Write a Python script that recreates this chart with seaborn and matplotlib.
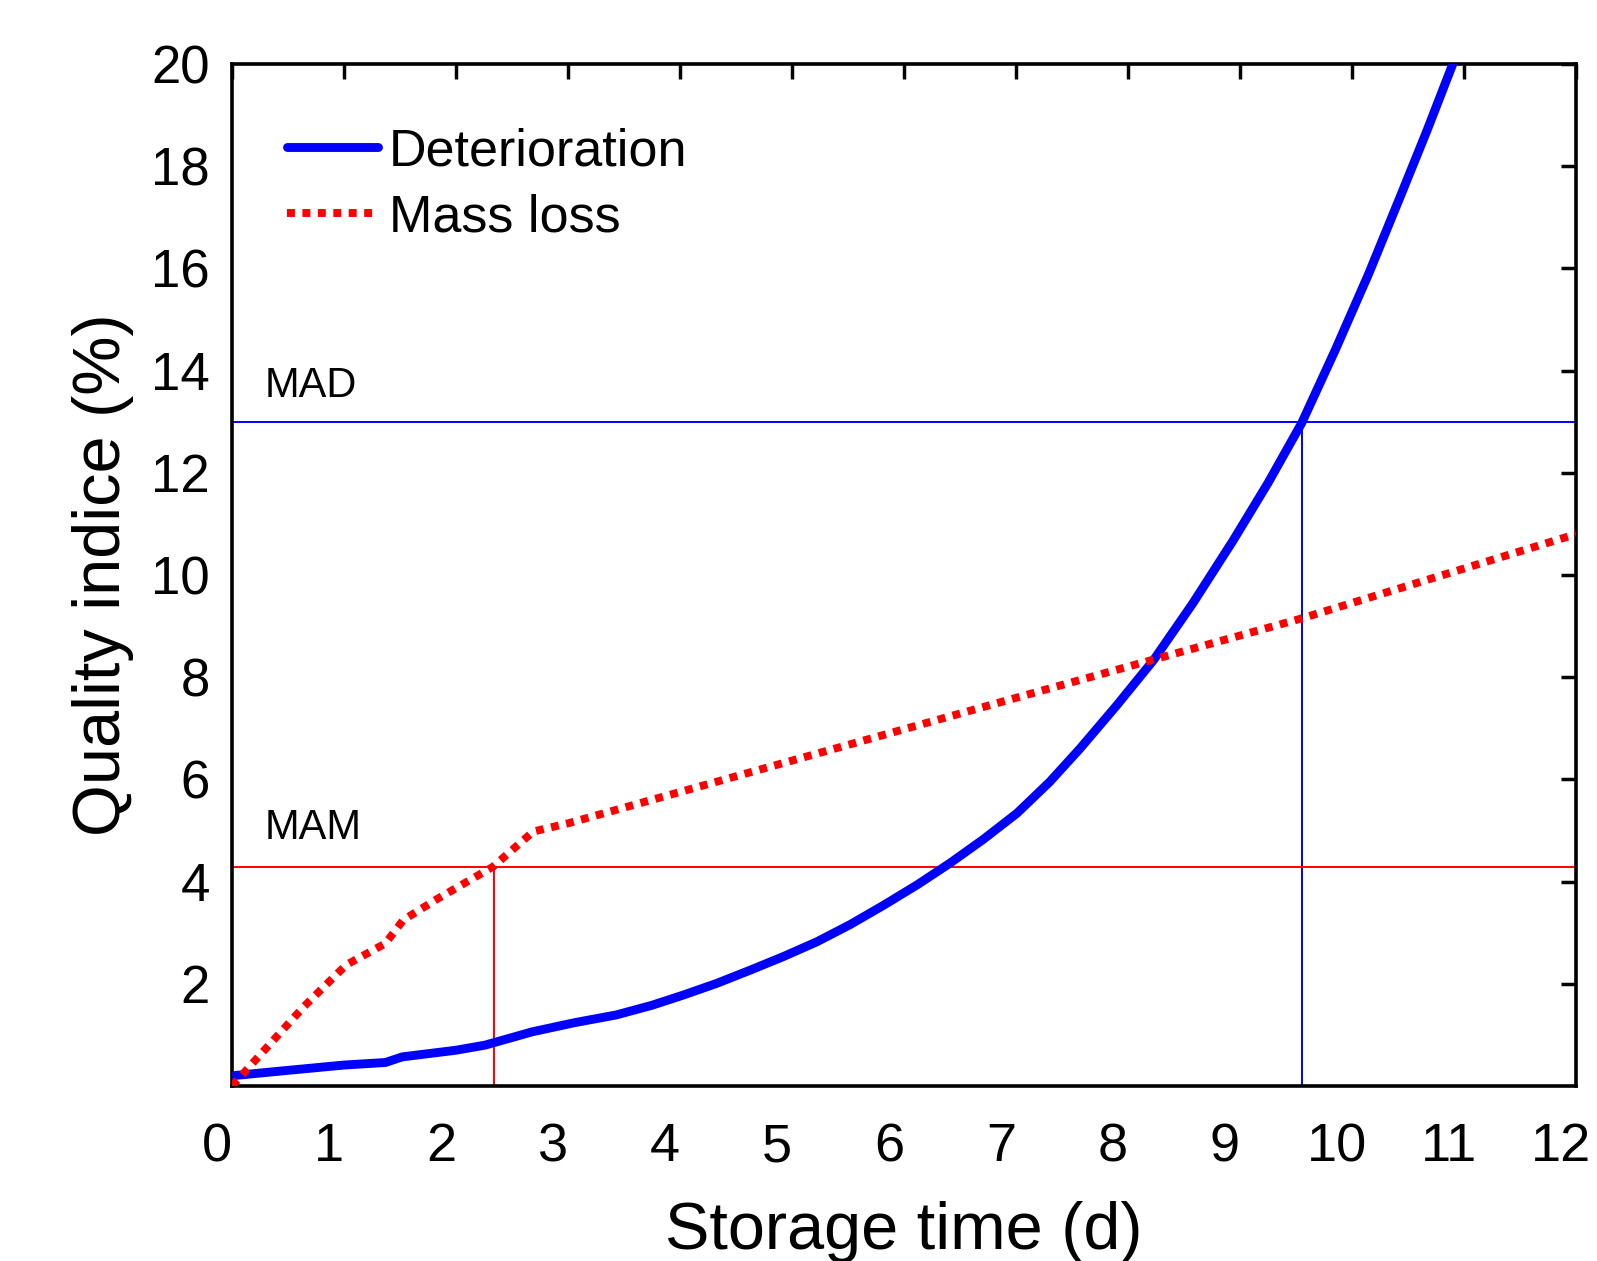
import numpy as np
import pandas as pd
import matplotlib
matplotlib.use("Agg")
import matplotlib.pyplot as plt
import matplotlib.transforms as mtransforms
import seaborn as sns

# ---- data ----
det_time = [0.0, 0.47, 1.0, 1.37, 1.52, 2.0, 2.26, 2.68, 3.06, 3.43, 3.75, 4.03,
            4.33, 4.63, 4.92, 5.22, 5.52, 5.82, 6.12, 6.41, 6.71, 7.01, 7.3,
            7.57, 7.9, 8.23, 8.58, 8.94, 9.25, 9.55, 9.85, 10.15, 10.43, 10.67, 10.9]
det_value = [0.2, 0.30, 0.41, 0.46, 0.57, 0.70, 0.80, 1.06, 1.24, 1.39, 1.58, 1.78,
             2.01, 2.27, 2.53, 2.82, 3.16, 3.54, 3.94, 4.36, 4.83, 5.34, 5.95,
             6.6, 7.45, 8.34, 9.45, 10.68, 11.8, 12.97, 14.4, 15.9, 17.4, 18.7, 20.0]

mass_time = [0.0, 0.64, 1.02, 1.37, 1.53, 1.84, 2.33, 2.69, 3.0, 7.3, 9.55, 12.0]
mass_value = [0.0, 1.55, 2.37, 2.79, 3.25, 3.67, 4.29, 4.98, 5.14, 7.78, 9.15, 10.8]

MAD_value = 13.0
MAD_time = 9.55
MAM_value = 4.29
MAM_time = 2.34

x_ticks = list(range(0, 13))
y_ticks = list(range(2, 21, 2))

series_labels = ["Deterioration", "Mass loss"]

# ---- style ----
sns.set_style("white")
plt.rcParams["font.family"] = ["Liberation Sans", "DejaVu Sans"]
for key in ["text.color", "axes.labelcolor", "xtick.color", "ytick.color"]:
    plt.rcParams[key] = "black"

fig = plt.figure(figsize=(15.97, 12.61), dpi=100)
ax = fig.add_axes([232 / 1597, 1 - 1086 / 1261, (1576 - 232) / 1597, (1086 - 64) / 1261])

det_df = pd.DataFrame({"t": det_time, "v": det_value})
mass_df = pd.DataFrame({"t": mass_time, "v": mass_value})

# reference lines
ax.plot([0, 12], [MAD_value, MAD_value], color="#0000ff", lw=1.4, zorder=1)
ax.plot([MAD_time, MAD_time], [0, MAD_value], color="#0000ff", lw=1.4, zorder=1)
ax.plot([0, 12], [MAM_value, MAM_value], color="#ff0000", lw=1.4, zorder=1)
ax.plot([MAM_time, MAM_time], [0, MAM_value], color="#ff0000", lw=1.4, zorder=1)

sns.lineplot(data=det_df, x="t", y="v", ax=ax, color="#0000ff",
             sort=False, estimator=None, label=series_labels[0], zorder=3)
det_line = ax.lines[-1]
sns.lineplot(data=mass_df, x="t", y="v", ax=ax, color="#ff0000",
             sort=False, estimator=None, label=series_labels[1], zorder=4)
mass_line = ax.lines[-1]

det_line.set_linewidth(6.4)
det_line.set_solid_joinstyle("round")
mass_line.set_linewidth(5.7)
mass_line.set_dashes([1, 0.95])
mass_line.set_dash_capstyle("butt")

ax.text(0.29, 13.48, "MAD", fontsize=30, va="baseline", ha="left")
ax.text(0.29, 4.83, "MAM", fontsize=30, va="baseline", ha="left")

ax.set_xlim(0, 12)
ax.set_ylim(0, 20)
ax.set_xticks(x_ticks)
ax.set_yticks(y_ticks)
ax.set_xticklabels([str(t) for t in x_ticks])
ax.set_yticklabels([str(t) for t in y_ticks])

for s in ax.spines.values():
    s.set_visible(True)
    s.set_linewidth(2.6)
    s.set_color("black")

ax.tick_params(axis="both", direction="in", length=10.8, width=2.5,
               top=True, right=True, color="black", labelcolor="black")
ax.tick_params(axis="x", labelsize=39, pad=26)
ax.tick_params(axis="y", labelsize=38, pad=16)

offset = mtransforms.ScaledTranslation(-0.15, 0, fig.dpi_scale_trans)
for lab in ax.get_xticklabels():
    lab.set_transform(lab.get_transform() + offset)

ax.set_xlabel("Storage time (d)", fontsize=48, labelpad=21)
ax.set_ylabel("Quality indice (%)", fontsize=48, labelpad=12)

handles, labels = ax.get_legend_handles_labels()
leg = ax.legend(handles, labels, loc="upper left",
                bbox_to_anchor=(287 / 1597, 1 - 127 / 1261),
                bbox_transform=fig.transFigure, frameon=False, fontsize=37.5,
                handlelength=1.75, handletextpad=0.2, labelspacing=0.34,
                borderpad=0, borderaxespad=0)
for h, src in zip(leg.get_lines(), [det_line, mass_line]):
    h.set_linewidth(src.get_linewidth())
mass_h = leg.get_lines()[1]
mass_h.set_dashes([1, 0.95])
mass_h.set_dash_capstyle("butt")

fig.savefig("out.png", dpi=100)
